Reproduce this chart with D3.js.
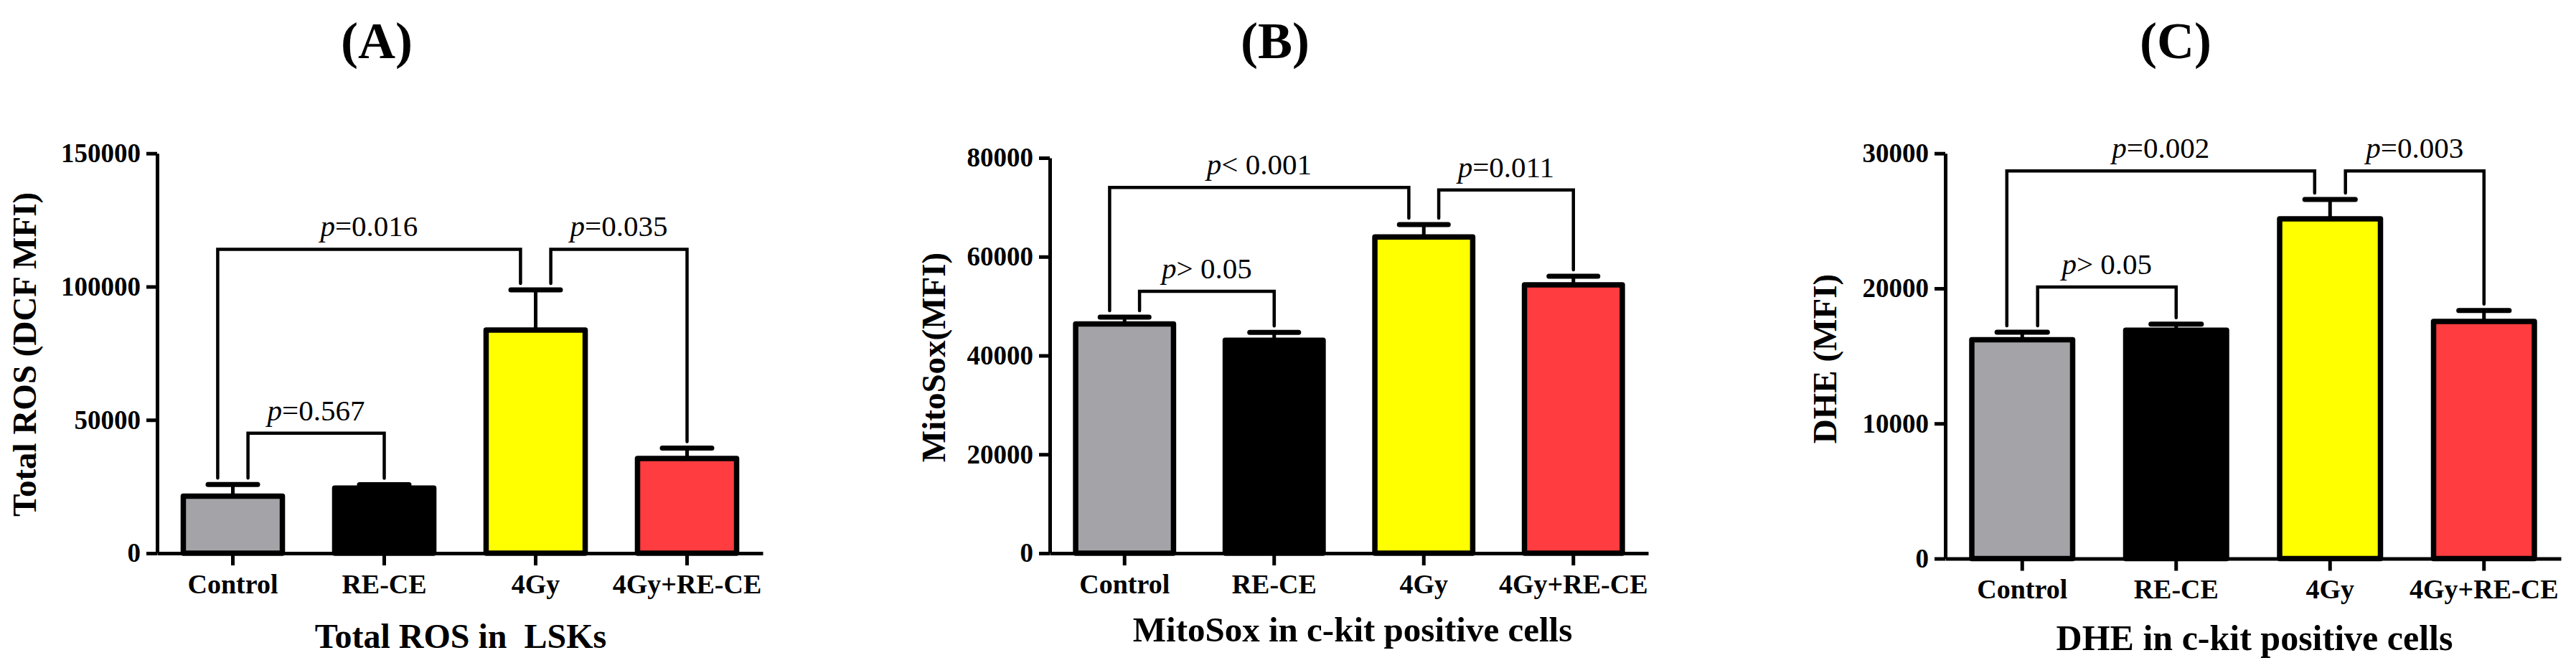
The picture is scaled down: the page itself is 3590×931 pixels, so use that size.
<!DOCTYPE html>
<html>
<head>
<meta charset="utf-8">
<script src="https://cdn.jsdelivr.net/npm/d3@7"></script>
<style>
  body { margin: 0; background: #fff; }
  svg { display: block; }
  text { font-family: "Liberation Serif", "Times New Roman", serif; fill: #000; }
</style>
</head>
<body>
<div id="chart"></div>
<script>
// groups on the x axis
const categories = ["Control", "RE-CE", "4Gy", "4Gy+RE-CE"];

// (A) total ROS, DCF MFI
const rosMean = [21400, 24400, 83700, 35500];
const rosSem = [4400, 1300, 15100, 3900];
const rosTicks = [0, 50000, 100000, 150000];
const rosPairs = [
  { from: "Control", to: "4Gy", level: 114000, label: "p=0.016" },
  { from: "4Gy", to: "4Gy+RE-CE", level: 114000, label: "p=0.035" },
  { from: "Control", to: "RE-CE", level: 45000, label: "p=0.567" }
];

// (B) MitoSox MFI
const mitoMean = [46400, 43100, 64000, 54300];
const mitoSem = [1350, 1600, 2500, 1750];
const mitoTicks = [0, 20000, 40000, 60000, 80000];
const mitoPairs = [
  { from: "Control", to: "4Gy", level: 74000, label: "p< 0.001" },
  { from: "4Gy", to: "4Gy+RE-CE", level: 73500, label: "p=0.011" },
  { from: "Control", to: "RE-CE", level: 53000, label: "p> 0.05" }
];

// (C) DHE MFI
const dheMean = [16200, 16900, 25150, 17550];
const dheSem = [560, 450, 1430, 820];
const dheTicks = [0, 10000, 20000, 30000];
const dhePairs = [
  { from: "Control", to: "4Gy", level: 28700, label: "p=0.002" },
  { from: "4Gy", to: "4Gy+RE-CE", level: 28700, label: "p=0.003" },
  { from: "Control", to: "RE-CE", level: 20100, label: "p> 0.05" }
];

const barColors = ["#a4a3a8", "#000000", "#ffff00", "#ff3c3f"];

const panels = [
  { tag: "(A)", mean: rosMean, sem: rosSem, ticks: rosTicks, pairs: rosPairs,
    yTitle: "Total ROS (DCF MFI)", xTitle: "Total ROS in  LSKs",
    left: 219, right: 1063, base: 771, top: 213.7,
    tagX: 525, yTitleX: 50, yTitleY: 494, xTitleX: 642, xTitleY: 903, xTitleSize: 48 },
  { tag: "(B)", mean: mitoMean, sem: mitoSem, ticks: mitoTicks, pairs: mitoPairs,
    yTitle: "MitoSox(MFI)", xTitle: "MitoSox in c-kit positive cells",
    left: 1463, right: 2297, base: 771, top: 220,
    tagX: 1777, yTitleX: 1317, yTitleY: 498, xTitleX: 1885, xTitleY: 894, xTitleSize: 49 },
  { tag: "(C)", mean: dheMean, sem: dheSem, ticks: dheTicks, pairs: dhePairs,
    yTitle: "DHE (MFI)", xTitle: "DHE in c-kit positive cells",
    left: 2711, right: 3569, base: 778.5, top: 213.7,
    tagX: 3032, yTitleX: 2559, yTitleY: 500, xTitleX: 3142, xTitleY: 906, xTitleSize: 50 }
];

const svg = d3.select("#chart")
  .append("svg")
  .attr("width", 3590)
  .attr("height", 931);

svg.append("rect").attr("width", 3590).attr("height", 931).attr("fill", "#fff");

panels.forEach(function(p) {
  const g = svg.append("g");

  const x = d3.scaleBand()
    .domain(categories)
    .range([p.left, p.right])
    .paddingInner(0.31)
    .paddingOuter(0.155);
  const step = x.step();

  const y = d3.scaleLinear()
    .domain([0, p.ticks[p.ticks.length - 1]])
    .range([p.base, p.top]);

  const rows = categories.map((c, i) => ({ cat: c, mean: p.mean[i], sem: p.sem[i], color: barColors[i] }));

  // bars
  const barStroke = 7.5;
  g.selectAll(".bar")
    .data(rows)
    .enter()
    .append("rect")
    .attr("x", d => x(d.cat) + barStroke / 2)
    .attr("y", d => y(d.mean))
    .attr("width", x.bandwidth() - barStroke)
    .attr("height", d => y(0) - y(d.mean))
    .attr("fill", d => d.color)
    .attr("stroke", "#000")
    .attr("stroke-width", barStroke)
    .attr("stroke-linejoin", "round");

  // error bars, upper side only
  const capHalf = (0.36 * step - 7) / 2;
  rows.forEach(function(d) {
    const cx = x(d.cat) + x.bandwidth() / 2;
    g.append("line")
      .attr("x1", cx).attr("x2", cx)
      .attr("y1", y(d.mean)).attr("y2", y(d.mean + d.sem))
      .attr("stroke", "#000").attr("stroke-width", 5);
    g.append("line")
      .attr("x1", cx - capHalf).attr("x2", cx + capHalf)
      .attr("y1", y(d.mean + d.sem)).attr("y2", y(d.mean + d.sem))
      .attr("stroke", "#000").attr("stroke-width", 7)
      .attr("stroke-linecap", "round");
  });

  // significance brackets
  const gap = 0.1 * step;
  const span = br => categories.indexOf(br.to) - categories.indexOf(br.from);
  function legDx(br, end) {
    const cat = br[end];
    const others = p.pairs.filter(o => o !== br && (o.from === cat || o.to === cat));
    if (!others.length) return 0;
    if (end === "to") return -gap;
    const o = others[0];
    if (o.to === cat) return gap;
    return span(br) > span(o) ? -gap : gap;
  }
  function legBottom(cat) {
    const i = categories.indexOf(cat);
    return y(p.mean[i] + p.sem[i]) - 9;
  }

  p.pairs.forEach(function(br) {
    const xl = x(br.from) + x.bandwidth() / 2 + legDx(br, "from");
    const xr = x(br.to) + x.bandwidth() / 2 + legDx(br, "to");
    const yt = y(br.level);
    g.append("path")
      .attr("d", `M${xl},${legBottom(br.from)}V${yt}H${xr}V${legBottom(br.to)}`)
      .attr("fill", "none")
      .attr("stroke", "#000")
      .attr("stroke-width", 4.5)
      .attr("stroke-linecap", "round");

    const t = g.append("text")
      .attr("x", (xl + xr) / 2)
      .attr("y", yt - 18)
      .attr("text-anchor", "middle")
      .attr("font-size", 41)
      .style("white-space", "pre");
    t.append("tspan").attr("font-style", "italic").text(br.label.charAt(0));
    t.append("tspan").text(br.label.slice(1));
  });

  // axes
  const yAxis = g.append("g")
    .attr("transform", `translate(${p.left},0)`)
    .call(d3.axisLeft(y).tickValues(p.ticks).tickFormat(d3.format("d")).tickSize(15).tickSizeOuter(0).tickPadding(8));

  const xAxis = g.append("g")
    .attr("transform", `translate(0,${p.base})`)
    .call(d3.axisBottom(x).tickSize(17).tickSizeOuter(0).tickPadding(12));

  [yAxis, xAxis].forEach(function(a) {
    a.select(".domain").attr("stroke", "#000").attr("stroke-width", 5);
    a.selectAll(".tick line").attr("stroke", "#000").attr("stroke-width", 5);
    a.selectAll(".tick text")
      .attr("font-family", "Liberation Serif, Times New Roman, serif")
      .attr("font-weight", "bold")
      .attr("fill", "#000");
  });
  yAxis.selectAll(".tick text").attr("font-size", 37);
  xAxis.selectAll(".tick text").attr("font-size", 38);

  // titles
  g.append("text")
    .attr("x", p.tagX)
    .attr("y", 81)
    .attr("text-anchor", "middle")
    .attr("font-size", 72)
    .attr("font-weight", "bold")
    .text(p.tag);

  g.append("text")
    .attr("transform", `translate(${p.yTitleX},${p.yTitleY}) rotate(-90)`)
    .attr("text-anchor", "middle")
    .attr("font-size", 47)
    .attr("font-weight", "bold")
    .text(p.yTitle);

  g.append("text")
    .attr("x", p.xTitleX)
    .attr("y", p.xTitleY)
    .attr("text-anchor", "middle")
    .attr("font-size", p.xTitleSize)
    .attr("font-weight", "bold")
    .style("white-space", "pre")
    .text(p.xTitle);
});
</script>
</body>
</html>
